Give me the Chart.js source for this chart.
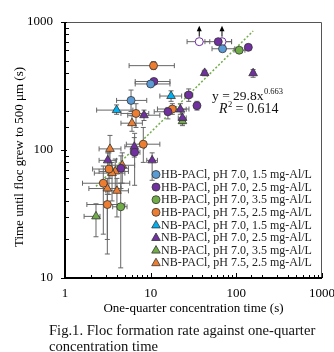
<!DOCTYPE html>
<html>
<head>
<meta charset="utf-8">
<script src="https://cdn.jsdelivr.net/npm/chart.js@4.4.0/dist/chart.umd.min.js"></script>
<style>
  body { margin: 0; background: #fff; }
  #wrap { position: relative; width: 334px; height: 352px; }
  #chart { display: block; }
  #caption {
    position: absolute; left: 49px; top: 322px;
    font: 14.6px "Liberation Serif", "Times New Roman", serif;
    line-height: 16px; color: #111; white-space: nowrap;
  }
</style>
</head>
<body>
<div id="wrap">
  <canvas id="chart" width="334" height="352"></canvas>
  <div id="caption">Fig.1. Floc formation rate against one-quarter<br>concentration time</div>
</div>
<script>
// each point: [x, y, xLow, xHigh, yLow, yHigh]
const hbPh70Al15 = [
  [69, 618, 52, 96, 600, 640],
  [10, 328, 6.6, 16.8, 315, 345],
  [5.9, 244, 4.0, 9.0, 200, 294],
];
const hbPh70Al25 = [
  [61.5, 702, 43, 88, 690, 715],
  [138, 634, 130, 145, 620, 650],
  [10.9, 343, 6.6, 16.8, 330, 355],
  [27.8, 269, 25, 31, 240, 300],
  [34.7, 222, 33, 36.5, 205, 240],
  [15.9, 199, 11, 23, 175, 215],
  [6.5, 96, 5.8, 7.5, 53, 135],
  [4.5, 72, 3.5, 5.5, 50, 90],
];
// lower-bound points (open circles with arrow)
const hbPh70Al25Min = [
  [36.9, 702, 26.6, 49, 702, 702],
  [68, 702, 62, 88, 702, 702],
];
const hbPh70Al35 = [
  [108, 602, 94, 126, 590, 615],
  [4.47, 36, 3.6, 5.3, 12, 55],
];
const hbPh75Al25 = [
  [10.8, 456, 5.6, 18.9, 425, 490],
  [17.9, 209, 12, 28, 190, 230],
  [6.74, 193, 4.5, 9.5, 150, 230],
  [8.2, 111, 5.2, 12.8, 80, 150],
  [3.26, 71, 2.1, 4.8, 45, 95],
  [2.8, 55, 1.6, 5.7, 22, 75],
  [3.12, 37.5, 1.8, 5.0, 15.4, 45],
];
const nbPh70Al15 = [
  [17.3, 264, 12.8, 23, 240, 290],
  [4.0, 205, 2.34, 6.2, 190, 225],
];
const nbPh70Al25 = [
  [42.7, 400, 40, 45, 380, 420],
  [157, 398, 150, 165, 370, 425],
  [22.2, 208, 19, 26, 190, 230],
  [8.36, 187, 5.4, 12.8, 170, 205],
  [23.5, 178, 21, 26, 160, 195],
  [6.44, 106, 5.0, 8.5, 88, 125],
  [10.4, 83, 9, 12, 58, 95],
  [3.15, 83, 2.5, 4.0, 70, 95],
];
const nbPh70Al35 = [
  [23.5, 168, 22, 25, 155, 180],
  [2.3, 30.3, 1.67, 2.56, 21, 38],
];
const nbPh75Al25 = [
  [6.05, 162, 4.5, 8, 140, 185],
  [3.35, 102, 2.5, 4.5, 60, 130],
  [4.66, 76, 3.5, 6.5, 55, 95],
  [3.86, 68, 2.5, 5.5, 50, 85],
  [3.54, 66, 2.2, 5, 40, 80],
  [3.12, 50, 1.9, 4.5, 20, 60],
  [4.04, 48, 3.0, 5.5, 30, 60],
];
// fitted line y = 29.8x^0.663, end points
const trendLine = [[2.3, 52], [157, 850]];

const seriesLabels = [
  "HB-PACl, pH 7.0, 1.5 mg-Al/L",
  "HB-PACl, pH 7.0, 2.5 mg-Al/L",
  "HB-PACl, pH 7.0, 3.5 mg-Al/L",
  "HB-PACl, pH 7.5, 2.5 mg-Al/L",
  "NB-PACl, pH 7.0, 1.5 mg-Al/L",
  "NB-PACl, pH 7.0, 2.5 mg-Al/L",
  "NB-PACl, pH 7.0, 3.5 mg-Al/L",
  "NB-PACl, pH 7.5, 2.5 mg-Al/L",
];
const seriesData = [hbPh70Al15, hbPh70Al25, hbPh70Al35, hbPh75Al25,
  nbPh70Al15, nbPh70Al25, nbPh70Al35, nbPh75Al25];
const seriesColors = ["#5B9BD5", "#7030A0", "#70AD47", "#ED7D31",
  "#00B0F0", "#7030A0", "#70AD47", "#ED7D31"];

const serif = '"Liberation Serif", "Times New Roman", serif';
Chart.defaults.font.family = serif;
Chart.defaults.color = "#000";

const toPoints = (arr) => arr.map((p) => ({ x: p[0], y: p[1] }));

let datasets = seriesData.map((arr, i) => ({
  label: seriesLabels[i],
  data: toPoints(arr),
  err: arr,
  legend: true,
  pointStyle: i < 4 ? "circle" : "triangle",
  pointRadius: i < 4 ? 4 : 5,
  backgroundColor: seriesColors[i],
  borderColor: "#333",
  borderWidth: 0.8,
}));

datasets.push({
  label: "lower bound",
  data: toPoints(hbPh70Al25Min),
  err: hbPh70Al25Min,
  arrow: true,
  pointStyle: "circle",
  pointRadius: 4,
  backgroundColor: "#fff",
  borderColor: "#7030A0",
  borderWidth: 1,
});

datasets.push({
  type: "line",
  label: "fit",
  data: toPoints(trendLine),
  borderColor: "#70AD47",
  borderWidth: 1.5,
  borderDash: [2, 2],
  pointRadius: 0,
  fill: false,
});

const isDecade = (v) => Math.abs(Math.log10(v) - Math.round(Math.log10(v))) < 1e-9;

const errorBars = {
  id: "errorBars",
  beforeDatasetsDraw(chart) {
    const ctx = chart.ctx;
    const xs = chart.scales.x, ys = chart.scales.y;
    ctx.save();
    ctx.strokeStyle = "#666";
    ctx.lineWidth = 1;
    chart.data.datasets.forEach((ds) => {
      if (!ds.err) return;
      ds.err.forEach((p) => {
        let px = xs.getPixelForValue(p[0]);
        let py = ys.getPixelForValue(p[1]);
        let x1 = xs.getPixelForValue(p[2]), x2 = xs.getPixelForValue(p[3]);
        let y1 = ys.getPixelForValue(p[4]), y2 = ys.getPixelForValue(p[5]);
        ctx.beginPath();
        ctx.moveTo(x1, py); ctx.lineTo(x2, py);
        ctx.moveTo(x1, py - 2.5); ctx.lineTo(x1, py + 2.5);
        ctx.moveTo(x2, py - 2.5); ctx.lineTo(x2, py + 2.5);
        if (p[4] != p[5]) {
          ctx.moveTo(px, y1); ctx.lineTo(px, y2);
          ctx.moveTo(px - 2.5, y1); ctx.lineTo(px + 2.5, y1);
          ctx.moveTo(px - 2.5, y2); ctx.lineTo(px + 2.5, y2);
        }
        ctx.stroke();
      });
    });
    ctx.restore();
  },
};

const decorations = {
  id: "decorations",
  afterDraw(chart) {
    const ctx = chart.ctx;
    const a = chart.chartArea;
    const xs = chart.scales.x, ys = chart.scales.y;
    ctx.save();

    // frame
    ctx.strokeStyle = "#555";
    ctx.lineWidth = 1;
    ctx.beginPath();
    ctx.moveTo(a.left, a.top + 0.5); ctx.lineTo(a.right - 0.5, a.top + 0.5);
    ctx.lineTo(a.right - 0.5, a.bottom);
    ctx.stroke();
    ctx.strokeStyle = "#000";
    ctx.lineWidth = 2;
    ctx.beginPath();
    ctx.moveTo(a.left, a.top); ctx.lineTo(a.left, a.bottom);
    ctx.lineTo(a.right, a.bottom);
    ctx.stroke();

    // ticks
    ctx.lineWidth = 1;
    ctx.beginPath();
    xs.ticks.forEach((t) => {
      let px = Math.round(xs.getPixelForValue(t.value)) + 0.5;
      let len = isDecade(t.value) ? 5 : 3;
      ctx.moveTo(px, a.bottom); ctx.lineTo(px, a.bottom - len);
    });
    ys.ticks.forEach((t) => {
      let py = Math.round(ys.getPixelForValue(t.value)) + 0.5;
      if (isDecade(t.value)) {
        ctx.moveTo(a.left - 4, py); ctx.lineTo(a.left + 2, py);
      } else {
        ctx.moveTo(a.left, py); ctx.lineTo(a.left + 4, py);
      }
    });
    ctx.stroke();

    // y axis title (sits a bit below the plot centre in the original)
    ctx.save();
    ctx.translate(20, 157);
    ctx.rotate(-Math.PI / 2);
    ctx.font = "13px " + serif;
    ctx.fillStyle = "#000";
    ctx.textAlign = "center";
    ctx.textBaseline = "middle";
    ctx.fillText("Time until floc grew to 500 μm (s)", 0, 0);
    ctx.restore();

    // arrows on lower-bound points
    chart.data.datasets.forEach((ds, i) => {
      if (!ds.arrow) return;
      chart.getDatasetMeta(i).data.forEach((pt) => {
        ctx.strokeStyle = "#000";
        ctx.fillStyle = "#000";
        ctx.beginPath();
        ctx.moveTo(pt.x, pt.y - 5); ctx.lineTo(pt.x, pt.y - 11);
        ctx.stroke();
        ctx.beginPath();
        ctx.moveTo(pt.x, pt.y - 16);
        ctx.lineTo(pt.x - 2.5, pt.y - 10.5);
        ctx.lineTo(pt.x + 2.5, pt.y - 10.5);
        ctx.closePath();
        ctx.fill();
      });
    });

    // legend
    ctx.font = "12px " + serif;
    ctx.textBaseline = "middle";
    let row = 0;
    chart.data.datasets.forEach((ds) => {
      if (!ds.legend) return;
      let cy = 174.5 + row * 12.6;
      let cx = 156;
      ctx.fillStyle = ds.backgroundColor;
      ctx.strokeStyle = "#333";
      ctx.lineWidth = 0.8;
      ctx.beginPath();
      if (ds.pointStyle == "circle") {
        ctx.arc(cx, cy, 4, 0, Math.PI * 2);
      } else {
        ctx.moveTo(cx, cy - 4.5);
        ctx.lineTo(cx - 4.3, cy + 3);
        ctx.lineTo(cx + 4.3, cy + 3);
        ctx.closePath();
      }
      ctx.fill();
      ctx.stroke();
      ctx.fillStyle = "#222";
      ctx.textAlign = "left";
      ctx.fillText(ds.label, cx + 5, cy + 0.5);
      row++;
    });

    // fit equation
    ctx.textBaseline = "alphabetic";
    ctx.fillStyle = "#111";
    ctx.font = "13.5px " + serif;
    let eq = "y = 29.8x";
    ctx.fillText(eq, 212, 100);
    let w = ctx.measureText(eq).width;
    ctx.font = "8.5px " + serif;
    ctx.fillText("0.663", 212 + w + 0.5, 94);

    ctx.font = "italic 14px " + serif;
    ctx.fillText("R", 219, 113);
    let rw = ctx.measureText("R").width;
    ctx.font = "8.5px " + serif;
    ctx.fillText("2", 219 + rw + 0.5, 107);
    ctx.font = "14px " + serif;
    ctx.fillText(" = 0.614", 219 + rw + 4.5, 113);

    ctx.restore();
  },
};

const chart = new Chart(document.getElementById("chart"), {
  type: "scatter",
  data: { datasets: datasets },
  options: {
    responsive: false,
    animation: false,
    layout: { padding: { left: 0, top: 22, right: 12, bottom: 34 } },
    plugins: { legend: { display: false }, tooltip: { enabled: false } },
    scales: {
      x: {
        type: "logarithmic",
        min: 1,
        max: 1000,
        grid: { display: false, drawTicks: false },
        border: { display: false },
        ticks: {
          autoSkip: false,
          maxRotation: 0,
          padding: 8,
          font: { size: 13 },
          callback: (v) => (isDecade(v) ? String(v) : ""),
        },
        title: {
          display: true,
          text: "One-quarter concentration time (s)",
          font: { size: 13 },
          padding: { top: 2, bottom: 2 },
        },
        afterFit: (s) => {
          s.height = 40;
          s.paddingLeft = 0;
          s.paddingRight = 0;
        },
      },
      y: {
        type: "logarithmic",
        min: 10,
        max: 1000,
        grid: { display: false, drawTicks: false },
        border: { display: false },
        ticks: {
          autoSkip: false,
          padding: 12,
          font: { size: 13 },
          callback: (v) => (isDecade(v) ? String(v) : ""),
        },
        title: { display: false },
        afterFit: (s) => {
          s.width = 65;
          s.paddingTop = 0;
          s.paddingBottom = 0;
        },
      },
    },
  },
  plugins: [errorBars, decorations],
});
</script>
</body>
</html>
